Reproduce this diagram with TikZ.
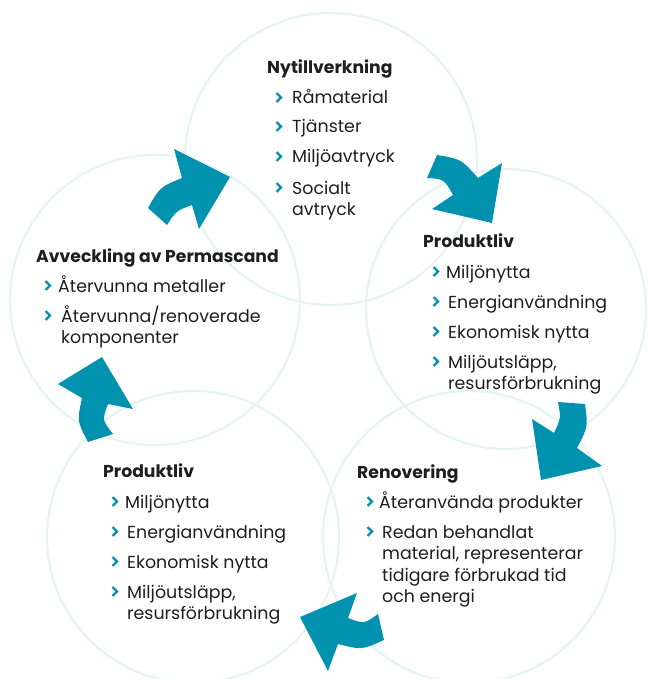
\documentclass[tikz,border=0pt]{standalone}
\usepackage{fontspec}
\setmainfont{Poppins}
\usepackage{xcolor}
\definecolor{arrowteal}{HTML}{0092AE}
\definecolor{ringmint}{HTML}{E4F4F3}
\definecolor{textdark}{HTML}{1E1E1E}

\begin{document}
\begin{tikzpicture}[x=1pt, y=-1pt,
  ring/.style={draw=ringmint, line width=2.2pt},
  turn/.style={fill=arrowteal},
  title/.style={anchor=base west, inner sep=0pt, text=textdark,
    font=\fontsize{17.2}{20}\selectfont\bfseries},
  % multi-line items sit on the baseline of their last line
  item/.style={anchor=base west, inner sep=0pt, text=textdark, align=left,
    font=\fontsize{17.4}{21.5}\selectfont},
  chev/.pic={\draw[arrowteal, line width=2.3pt] (-2.5,-4.4) -- (1.9,0) -- (-2.5,4.4);}]

\useasboundingbox (0,0) rectangle (647,679);

% the five stages
\draw[ring] (331,159) circle (146);
\draw[ring] (506,309) circle (140);
\draw[ring] (469,537) circle (146);
\draw[ring] (193,537) circle (146);
\draw[ring] (155,300) circle (145);

% turning arrows between the stages
\fill[turn] (148,208) .. controls (160,187) .. (182,178) -- (174,149) -- (230,177)
  -- (199,229) -- (192,205) .. controls (176,211) .. (167,225) -- cycle;
\fill[turn] (437,155) .. controls (461,159) .. (478,178) -- (502,163) -- (492,223)
  -- (432,209) -- (453,195) .. controls (444,179) .. (427,178) -- cycle;
\fill[turn] (558,402) -- (585,404) .. controls (588,427) .. (577,448) -- (602,466)
  -- (541,480) -- (532,419) -- (554,433) .. controls (561,418) .. (558,402) -- cycle;
\fill[turn] (378,614) .. controls (364,624) .. (348,618) -- (357,593) -- (300,617)
  -- (328,671) -- (338,644) .. controls (362,650) .. (384,640) -- cycle;
\fill[turn] (88,442) .. controls (77,421) .. (82,398) -- (58,384) -- (102,357)
  -- (133,409) -- (108,404) .. controls (102,420) .. (113,434) -- cycle;

% Nytillverkning
\node[title] (nyTitle) at (267,74) {Nytillverkning};
\pic at (279,97.5) {chev};
\node[item] (ny1) at (292,104) {Råmaterial};
\pic at (279,126.5) {chev};
\node[item] (ny2) at (292,133) {Tjänster};
\pic at (279,156.5) {chev};
\node[item] (ny3) at (292,163) {Miljöavtryck};
\pic at (279,187.5) {chev};
\node[item] (ny4) at (292,215.5) {Socialt\\avtryck};

% Produktliv, upper right
\node[title] (plaTitle) at (423,247) {Produktliv};
\pic at (436,271.5) {chev};
\node[item] (pla1) at (446,278) {Miljönytta};
\pic at (436,301.5) {chev};
\node[item] (pla2) at (448,308) {Energianvändning};
\pic at (436,331.5) {chev};
\node[item] (pla3) at (448,338) {Ekonomisk nytta};
\pic at (436,361.5) {chev};
\node[item] (pla4) at (448,389.5) {Miljöutsläpp,\\resursförbrukning};

% Renovering
\node[title] (renTitle) at (357,478) {Renovering};
\pic at (370,501.5) {chev};
\node[item] (ren1) at (379,508) {Återanvända produkter};
\pic at (370,531.5) {chev};
\node[item] (ren2) at (382,602.5) {Redan behandlat\\material, representerar\\tidigare förbrukad tid\\och energi};

% Produktliv, lower left
\node[title] (plbTitle) at (103,477) {Produktliv};
\pic at (115,501.5) {chev};
\node[item] (plb1) at (125,508) {Miljönytta};
\pic at (115,531.5) {chev};
\node[item] (plb2) at (127,538) {Energianvändning};
\pic at (115,561.5) {chev};
\node[item] (plb3) at (127,568) {Ekonomisk nytta};
\pic at (115,591.5) {chev};
\node[item] (plb4) at (127,619.5) {Miljöutsläpp,\\resursförbrukning};

% Avveckling
\node[title] (avTitle) at (36,262) {Avveckling av Permascand};
\pic at (48,285.5) {chev};
\node[item] (av1) at (58,292) {Återvunna metaller};
\pic at (48,315.5) {chev};
\node[item] (av2) at (61,343.5) {Återvunna/renoverade\\komponenter};

\end{tikzpicture}
\end{document}
